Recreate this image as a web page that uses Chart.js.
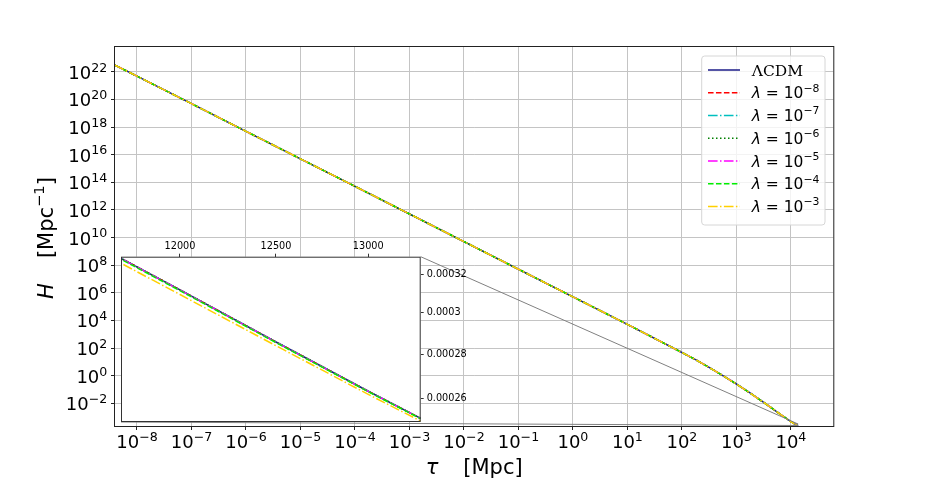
<!DOCTYPE html>
<html>
<head>
<meta charset="utf-8">
<script src="https://cdn.jsdelivr.net/npm/chart.js@4.4.1/dist/chart.umd.min.js"></script>
<style>
  html, body { margin: 0; padding: 0; background: #fff; }
  #wrap { position: relative; width: 926px; height: 486px; }
  #mainChart { position: absolute; left: 0; top: 0; }
  #insetChart { position: absolute; left: 121px; top: 230px; }
</style>
</head>
<body>
<div id="wrap">
  <canvas id="mainChart" width="926" height="486"></canvas>
  <canvas id="insetChart" width="360" height="192"></canvas>
</div>
<script>
// conformal time tau [Mpc] and Hubble rate H [Mpc^-1]
const tau = [3.95e-9, 1e-8, 1e-7, 1e-6, 1e-5, 1e-4, 1e-3, 1e-2, 1e-1, 1, 10, 100, 178, 316, 562, 1000, 1778, 3162, 5623, 10000, 11703, 12000, 12500, 13000, 13293];

const hLCDM = [3.0e22, 4.8e21, 4.9e19, 4.9e17, 5.0e15, 5.1e13, 5.1e11, 5.1e9, 5.1e7, 5.1e5, 5.2e3, 48, 14.5, 3.98, 1.02, 0.251, 0.0562, 0.01175, 2.34e-3, 4.68e-4, 3.287e-4, 3.118e-4, 2.858e-4, 2.632e-4, 2.515e-4];
const hLam8 = [3.0e22, 4.8e21, 4.9e19, 4.9e17, 5.0e15, 5.1e13, 5.1e11, 5.1e9, 5.1e7, 5.1e5, 5.2e3, 48, 14.5, 3.98, 1.02, 0.251, 0.0562, 0.01175, 2.34e-3, 4.68e-4, 3.287e-4, 3.118e-4, 2.858e-4, 2.632e-4, 2.515e-4];
const hLam7 = [3.0e22, 4.8e21, 4.9e19, 4.9e17, 5.0e15, 5.1e13, 5.1e11, 5.1e9, 5.1e7, 5.1e5, 5.2e3, 48, 14.5, 3.98, 1.02, 0.251, 0.0562, 0.01175, 2.34e-3, 4.68e-4, 3.287e-4, 3.118e-4, 2.858e-4, 2.632e-4, 2.515e-4];
const hLam6 = [3.0e22, 4.8e21, 4.9e19, 4.9e17, 5.0e15, 5.1e13, 5.1e11, 5.1e9, 5.1e7, 5.1e5, 5.2e3, 48, 14.5, 3.98, 1.02, 0.251, 0.0562, 0.01175, 2.34e-3, 4.68e-4, 3.287e-4, 3.118e-4, 2.858e-4, 2.632e-4, 2.515e-4];
const hLam5 = [3.0e22, 4.8e21, 4.9e19, 4.9e17, 5.0e15, 5.1e13, 5.1e11, 5.1e9, 5.1e7, 5.1e5, 5.2e3, 48, 14.5, 3.98, 1.02, 0.251, 0.0562, 0.01175, 2.34e-3, 4.68e-4, 3.286e-4, 3.117e-4, 2.857e-4, 2.631e-4, 2.515e-4];
const hLam4 = [3.0e22, 4.8e21, 4.9e19, 4.9e17, 5.0e15, 5.1e13, 5.1e11, 5.1e9, 5.1e7, 5.1e5, 5.2e3, 48, 14.5, 3.98, 1.02, 0.251, 0.0562, 0.01175, 2.34e-3, 4.68e-4, 3.282e-4, 3.114e-4, 2.855e-4, 2.630e-4, 2.514e-4];
const hLam3 = [3.0e22, 4.8e21, 4.9e19, 4.9e17, 5.0e15, 5.1e13, 5.1e11, 5.1e9, 5.1e7, 5.1e5, 5.2e3, 48, 14.5, 3.98, 1.02, 0.250, 0.0559, 0.01168, 2.32e-3, 4.65e-4, 3.260e-4, 3.094e-4, 2.840e-4, 2.618e-4, 2.504e-4];

const seriesNames = ['ΛCDM', 'λ = 10', 'λ = 10', 'λ = 10', 'λ = 10', 'λ = 10', 'λ = 10'];
const seriesExps = ['', '−8', '−7', '−6', '−5', '−4', '−3'];

// main axis ticks (exponents are the labels)
const xTicks = [1e-8, 1e-7, 1e-6, 1e-5, 1e-4, 1e-3, 1e-2, 1e-1, 1, 10, 100, 1000, 10000];
const xTickExps = ['−8', '−7', '−6', '−5', '−4', '−3', '−2', '−1', '0', '1', '2', '3', '4'];
const yTicks = [1e-2, 1, 1e2, 1e4, 1e6, 1e8, 1e10, 1e12, 1e14, 1e16, 1e18, 1e20, 1e22];
const yTickExps = ['−2', '0', '2', '4', '6', '8', '10', '12', '14', '16', '18', '20', '22'];

// inset ticks
const insetXTicks = [12000, 12500, 13000];
const insetXLabels = ['12000', '12500', '13000'];
const insetYTicks = [0.00026, 0.00028, 0.0003, 0.00032];
const insetYLabels = ['0.00026', '0.00028', '0.0003', '0.00032'];

// axis limits
const xLim = [3.95e-9, 6.0e4];
const yLim = [2.29e-4, 6.2e23];
const insetXLim = [11703, 13293];
const insetYLim = [2.50e-4, 3.296e-4];

const hSeries = [hLCDM, hLam8, hLam7, hLam6, hLam5, hLam4, hLam3];
const seriesColors = ['#1c1c88', '#ff0000', '#00bfbf', '#008000', '#ff00ff', '#00ee00', '#ffd000'];
const dashed = [5.55, 2.4], dashdot = [9.6, 2.4, 1.5, 2.4], dotted = [1.5, 2.5];
const seriesDash = [[], dashed, dashdot, dotted, dashdot, dashed, dashdot];

const FONT = '"DejaVu Sans", sans-serif';

function makeSets() {
  return hSeries.map((h, i) => ({
    label: seriesNames[i] + seriesExps[i],
    data: tau.map((t, j) => ({ x: t, y: h[j] })),
    borderColor: seriesColors[i],
    borderDash: seriesDash[i],
    borderWidth: 1.5,
    pointRadius: 0,
    fill: false,
    tension: 0,
    order: hSeries.length - 1 - i   // last series on top, like matplotlib
  }));
}

function setTicks(list) {
  return function (scale) { scale.ticks = list.map(v => ({ value: v })); };
}

// "10" with a superscript exponent
function drawPower(ctx, exp, x, y, size, align) {
  const bf = size + 'px ' + FONT, ef = (size * 0.7) + 'px ' + FONT;
  ctx.font = bf;
  const wb = ctx.measureText('10').width;
  ctx.font = ef;
  const we = ctx.measureText(exp).width;
  const x0 = align === 'right' ? x - wb - we : x - (wb + we) / 2;
  ctx.textAlign = 'left';
  ctx.textBaseline = 'alphabetic';
  ctx.font = bf;
  ctx.fillText('10', x0, y);
  ctx.font = ef;
  ctx.fillText(exp, x0 + wb, y - size * 0.4);
}

// ---- inset ----
const insetCanvas = document.getElementById('insetChart');
const insetDecor = {
  id: 'insetDecor',
  beforeDraw(chart) {
    const a = chart.chartArea, ctx = chart.ctx;
    ctx.save();
    ctx.fillStyle = '#fff';
    ctx.fillRect(a.left, a.top, a.right - a.left, a.bottom - a.top);
    ctx.restore();
  },
  afterDraw(chart) {
    const a = chart.chartArea, ctx = chart.ctx;
    ctx.save();
    ctx.strokeStyle = '#333';
    ctx.lineWidth = 1;
    ctx.strokeRect(a.left + 0.5, a.top + 0.5, a.right - a.left - 1, a.bottom - a.top - 1);
    ctx.restore();
  }
};

function noPad(s) {
  s.paddingTop = 0; s.paddingBottom = 0; s.paddingLeft = 0; s.paddingRight = 0;
}

const insetChart = new Chart(insetCanvas, {
  type: 'line',
  data: { datasets: makeSets() },
  options: {
    responsive: false,
    animation: false,
    devicePixelRatio: 1,
    layout: { padding: 0 },
    plugins: { legend: { display: false }, tooltip: { enabled: false } },
    scales: {
      x: {
        type: 'logarithmic',
        position: 'top',
        min: insetXLim[0], max: insetXLim[1],
        afterBuildTicks: setTicks(insetXTicks),
        afterFit: s => { s.height = 26.7; noPad(s); },
        ticks: {
          callback: (v, i) => insetXLabels[i],
          font: { family: FONT, size: 9.7 }, color: '#000',
          padding: 1.5, autoSkip: false, maxRotation: 0
        },
        grid: { drawOnChartArea: false, drawTicks: true, tickLength: 3, tickColor: '#333' },
        border: { display: false }
      },
      y: {
        type: 'logarithmic',
        position: 'right',
        min: insetYLim[0], max: insetYLim[1],
        afterBuildTicks: setTicks(insetYTicks),
        afterFit: s => { s.width = 60.3; noPad(s); },
        ticks: {
          callback: (v, i) => insetYLabels[i],
          font: { family: FONT, size: 9.7 }, color: '#000',
          padding: 3, autoSkip: false
        },
        grid: { drawOnChartArea: false, drawTicks: true, tickLength: 3, tickColor: '#333' },
        border: { display: false }
      }
    }
  },
  plugins: [insetDecor]
});

// ---- main ----
const mainDecor = {
  id: 'mainDecor',
  afterDatasetsDraw(chart) {
    const ctx = chart.ctx, sx = chart.scales.x, sy = chart.scales.y;
    const rx0 = sx.getPixelForValue(insetXLim[0]), rx1 = sx.getPixelForValue(insetXLim[1]);
    const ryb = sy.getPixelForValue(insetYLim[0]), ryt = sy.getPixelForValue(insetYLim[1]);
    const ia = insetChart.chartArea;
    const ox = insetCanvas.offsetLeft, oy = insetCanvas.offsetTop;
    ctx.save();
    ctx.strokeStyle = '#808080';
    ctx.lineWidth = 1;
    ctx.strokeRect(rx0, ryt, rx1 - rx0, ryb - ryt);
    ctx.beginPath();
    ctx.moveTo(ox + ia.right, oy + ia.top);
    ctx.lineTo(rx1, ryt);
    ctx.moveTo(ox + ia.left, oy + ia.bottom);
    ctx.lineTo(rx0, ryb);
    ctx.stroke();
    ctx.restore();
  },
  afterDraw(chart) {
    const ctx = chart.ctx, a = chart.chartArea, sx = chart.scales.x, sy = chart.scales.y;
    ctx.save();
    // spines
    ctx.strokeStyle = '#222';
    ctx.lineWidth = 1;
    ctx.strokeRect(a.left - 0.5, a.top - 0.5, a.right - a.left + 1, a.bottom - a.top + 1);

    // tick labels
    ctx.fillStyle = '#000';
    xTicks.forEach((v, i) => drawPower(ctx, xTickExps[i], sx.getPixelForValue(v), a.bottom + 22, 18, 'center'));
    yTicks.forEach((v, i) => drawPower(ctx, yTickExps[i], a.left - 7.7, sy.getPixelForValue(v) + 7, 18, 'right'));

    // x title: tau    [Mpc]
    const ts = 21;
    ctx.font = 'italic ' + ts + 'px ' + FONT;
    const wTau = ctx.measureText('τ').width;
    ctx.font = ts + 'px ' + FONT;
    const wMpc = ctx.measureText('[Mpc]').width;
    const gap = 25;
    let x0 = (a.left + a.right) / 2 - (wTau + gap + wMpc) / 2;
    const yb = a.bottom + 48;
    ctx.textAlign = 'left';
    ctx.textBaseline = 'alphabetic';
    ctx.font = 'italic ' + ts + 'px ' + FONT;
    ctx.fillText('τ', x0, yb);
    ctx.font = ts + 'px ' + FONT;
    ctx.fillText('[Mpc]', x0 + wTau + gap, yb);

    // y title: H    [Mpc^-1]
    ctx.save();
    ctx.translate(53, (a.top + a.bottom) / 2 + 1.5);
    ctx.rotate(-Math.PI / 2);
    ctx.font = 'italic ' + ts + 'px ' + FONT;
    const wH = ctx.measureText('H').width;
    ctx.font = ts + 'px ' + FONT;
    const w1 = ctx.measureText('[Mpc').width;
    const w3 = ctx.measureText(']').width;
    ctx.font = (ts * 0.7) + 'px ' + FONT;
    const w2 = ctx.measureText('−1').width;
    let p = -(wH + gap + w1 + w2 + w3) / 2;
    ctx.font = 'italic ' + ts + 'px ' + FONT;
    ctx.fillText('H', p, 0);
    p += wH + gap;
    ctx.font = ts + 'px ' + FONT;
    ctx.fillText('[Mpc', p, 0);
    p += w1;
    ctx.font = (ts * 0.7) + 'px ' + FONT;
    ctx.fillText('−1', p, -ts * 0.42);
    p += w2;
    ctx.font = ts + 'px ' + FONT;
    ctx.fillText(']', p, 0);
    ctx.restore();

    // legend box
    const bw = 123.3, bh = 169;
    const bx = a.right - 8.3 - bw, by = a.top + 9;
    const r = 3;
    ctx.beginPath();
    ctx.moveTo(bx + r, by);
    ctx.arcTo(bx + bw, by, bx + bw, by + bh, r);
    ctx.arcTo(bx + bw, by + bh, bx, by + bh, r);
    ctx.arcTo(bx, by + bh, bx, by, r);
    ctx.arcTo(bx, by, bx + bw, by, r);
    ctx.closePath();
    ctx.fillStyle = 'rgba(255,255,255,0.8)';
    ctx.fill();
    ctx.strokeStyle = '#d6d6d6';
    ctx.lineWidth = 1;
    ctx.stroke();

    const ls = 15.5;
    seriesNames.forEach((name, i) => {
      const cy = by + 14 + i * 22.75;
      ctx.beginPath();
      ctx.setLineDash(seriesDash[i]);
      ctx.strokeStyle = seriesColors[i];
      ctx.lineWidth = 1.5;
      ctx.moveTo(bx + 6.3, cy);
      ctx.lineTo(bx + 38.3, cy);
      ctx.stroke();
      ctx.setLineDash([]);
      ctx.fillStyle = '#000';
      const tx = bx + 50, ty = cy + 5.5;
      if (!seriesExps[i]) {
        ctx.font = ls + 'px "DejaVu Serif", serif';
        ctx.fillText(name, tx, ty);
      } else {
        ctx.font = 'italic ' + ls + 'px ' + FONT;
        ctx.fillText(name[0], tx, ty);
        const wl = ctx.measureText(name[0]).width;
        ctx.font = ls + 'px ' + FONT;
        const rest = name.slice(1);
        ctx.fillText(rest, tx + wl, ty);
        const wr = ctx.measureText(rest).width;
        ctx.font = (ls * 0.7) + 'px ' + FONT;
        ctx.fillText(seriesExps[i], tx + wl + wr, ty - ls * 0.42);
      }
    });
    ctx.restore();
  }
};

new Chart(document.getElementById('mainChart'), {
  type: 'line',
  data: { datasets: makeSets() },
  options: {
    responsive: false,
    animation: false,
    devicePixelRatio: 1,
    layout: { padding: { left: 111, right: 92.7, top: 47, bottom: 56 } },
    plugins: { legend: { display: false }, tooltip: { enabled: false } },
    scales: {
      x: {
        type: 'logarithmic',
        min: xLim[0], max: xLim[1],
        afterBuildTicks: setTicks(xTicks),
        ticks: { display: false },
        grid: { color: '#c4c4c4', lineWidth: 1, drawTicks: true, tickLength: 4, tickColor: '#222' },
        border: { display: false }
      },
      y: {
        type: 'logarithmic',
        min: yLim[0], max: yLim[1],
        afterBuildTicks: setTicks(yTicks),
        ticks: { display: false },
        grid: { color: '#c4c4c4', lineWidth: 1, drawTicks: true, tickLength: 4, tickColor: '#222' },
        border: { display: false }
      }
    }
  },
  plugins: [mainDecor]
});
</script>
</body>
</html>
